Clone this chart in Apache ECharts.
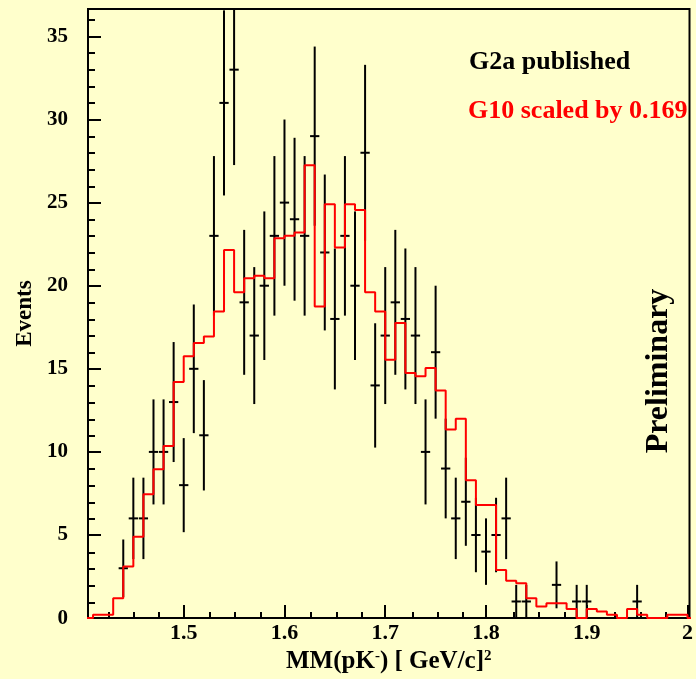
<!DOCTYPE html>
<html><head><meta charset="utf-8">
<script src="https://cdn.jsdelivr.net/npm/echarts@6/dist/echarts.min.js"></script>
<style>html,body{margin:0;padding:0;background:#ffffcc}#c{width:696px;height:679px}</style>
</head><body><div id="c"></div>
<script>
// ---- data ----
const binEdges = [1.40,1.41,1.42,1.43,1.44,1.45,1.46,1.47,1.48,1.49,
  1.50,1.51,1.52,1.53,1.54,1.55,1.56,1.57,1.58,1.59,
  1.60,1.61,1.62,1.63,1.64,1.65,1.66,1.67,1.68,1.69,
  1.70,1.71,1.72,1.73,1.74,1.75,1.76,1.77,1.78,1.79,
  1.80,1.81,1.82,1.83,1.84,1.85,1.86,1.87,1.88,1.89,
  1.90,1.91,1.92,1.93,1.94,1.95,1.96,1.97,1.98,1.99,2.00,2.01];
const g10Scaled = [0,0.2,0.2,1.2,3.1,4.9,7.45,8.95,10.35,14.2,
  15.75,16.55,16.95,18.45,22.15,19.6,20.45,20.6,20.45,22.85,
  23.0,23.2,27.25,18.75,24.9,22.3,24.9,24.55,19.6,18.45,
  15.55,17.75,14.75,14.55,15.05,13.7,11.35,12.0,8.3,6.8,
  6.8,2.9,2.25,2.1,1.2,0.7,0.9,0.9,0.55,0,
  0.55,0.4,0.2,0,0.55,0.2,0,0,0.2,0.2,0,0];
const g2aX = [1.44,1.45,1.46,1.47,1.48,1.49,1.50,1.51,1.52,1.53,1.54,1.55,1.56,1.57,1.58,1.59,
  1.60,1.61,1.62,1.63,1.64,1.65,1.66,1.67,1.68,1.69,1.70,1.71,1.72,1.73,1.74,1.75,1.76,1.77,1.78,1.79,
  1.80,1.81,1.82,1.83,1.84,1.87,1.89,1.90,1.95];
const g2aY = [3,6,6,10,10,13,8,15,11,23,31,33,19,17,20,23,
  25,24,23,29,22,18,23,20,28,14,17,19,18,17,10,16,9,6,7,5,
  4,5,6,1,1,2,1,1,1];
const g2aErr = [1.73,2.45,2.45,3.16,3.16,3.61,2.83,3.87,3.32,4.80,5.57,5.74,4.36,4.12,4.47,4.80,
  5.00,4.90,4.80,5.39,4.69,4.24,4.80,4.47,5.29,3.74,4.12,4.36,4.24,4.12,3.16,4.00,3.00,2.45,2.65,2.24,
  2.00,2.24,2.45,1,1,1.41,1,1,1];
const xMajorTicks = [1.5,1.6,1.7,1.8,1.9,2.0];
const xMinorTicks = [1.425,1.45,1.475,1.525,1.55,1.575,1.625,1.65,1.675,1.725,1.75,1.775,
  1.825,1.85,1.875,1.925,1.95,1.975];
const yMajorTicks = [0,5,10,15,20,25,30,35];
const yMinorTicks = [1,2,3,4,6,7,8,9,11,12,13,14,16,17,18,19,21,22,23,24,26,27,28,29,31,32,33,34,36];
const legendTexts = ['G2a published','G10 scaled by 0.169'];

const FONT = 'Liberation Serif';
const X_MIN = 1.405, X_MAX = 2.002, Y_MIN = 0, Y_MAX = 36.65;
const gridBox = {left: 88, right: 3, top: 9, bottom: 60};

const histData = binEdges.map((x, i) => [x, g10Scaled[i]]);
const pointData = g2aX.map((x, i) => [x, g2aY[i], g2aErr[i]]);

const chart = echarts.init(document.getElementById('c'), null, {renderer: 'canvas'});
chart.setOption({
  animation: false,
  backgroundColor: '#ffffcc',
  grid: [
    Object.assign({show: true, borderColor: '#000', borderWidth: 2, backgroundColor: 'transparent'}, gridBox),
    Object.assign({show: false}, gridBox)
  ],
  xAxis: [{
    type: 'value', gridIndex: 0, min: X_MIN, max: X_MAX, position: 'bottom',
    axisLine: {show: true, onZero: false, lineStyle: {color: '#000', width: 2}},
    axisTick: {show: true, inside: true, length: 13, customValues: xMajorTicks, lineStyle: {color: '#000', width: 2}},
    axisLabel: {show: true, customValues: xMajorTicks, margin: 4, color: '#000', fontFamily: FONT, fontWeight: 'bold', fontSize: 22},
    splitLine: {show: false},
    name: 'MM(pK{sup|-}) [ GeV/c]{sup|2}', nameLocation: 'middle', nameGap: 27,
    nameTextStyle: {color: '#000', fontFamily: FONT, fontWeight: 'bold', fontSize: 25,
      rich: {sup: {fontFamily: FONT, fontWeight: 'bold', fontSize: 15, color: '#000', verticalAlign: 'top'}}}
  }, {
    type: 'value', gridIndex: 1, min: X_MIN, max: X_MAX, position: 'bottom',
    axisLine: {show: false}, axisLabel: {show: false}, splitLine: {show: false},
    axisTick: {show: true, inside: true, length: 7, customValues: xMinorTicks, lineStyle: {color: '#000', width: 2}}
  }],
  yAxis: [{
    type: 'value', gridIndex: 0, min: Y_MIN, max: Y_MAX, position: 'left',
    axisLine: {show: true, onZero: false, lineStyle: {color: '#000', width: 2}},
    axisTick: {show: true, inside: true, length: 13, customValues: yMajorTicks, lineStyle: {color: '#000', width: 2}},
    axisLabel: {show: true, customValues: yMajorTicks, margin: 20, color: '#000', fontFamily: FONT, fontWeight: 'bold', fontSize: 21},
    splitLine: {show: false},
    name: 'Events', nameLocation: 'middle', nameGap: 48, nameRotate: 90,
    nameTextStyle: {color: '#000', fontFamily: FONT, fontWeight: 'bold', fontSize: 23}
  }, {
    type: 'value', gridIndex: 1, min: Y_MIN, max: Y_MAX, position: 'left',
    axisLine: {show: false}, axisLabel: {show: false}, splitLine: {show: false},
    axisTick: {show: true, inside: true, length: 7, customValues: yMinorTicks, lineStyle: {color: '#000', width: 2}}
  }],
  series: [{
    type: 'custom', xAxisIndex: 0, yAxisIndex: 0, clip: true, z: 3,
    data: pointData,
    renderItem: function (params, api) {
      const x = api.value(0), y = api.value(1), e = api.value(2);
      const top = api.coord([x, y + e]), bot = api.coord([x, y - e]);
      const l = api.coord([x - 0.0046, y]), r = api.coord([x + 0.0046, y]);
      return {type: 'group', children: [
        {type: 'line', shape: {x1: top[0], y1: top[1], x2: bot[0], y2: bot[1]}, style: {stroke: '#000', lineWidth: 2}},
        {type: 'line', shape: {x1: l[0], y1: l[1], x2: r[0], y2: r[1]}, style: {stroke: '#000', lineWidth: 2}}
      ]};
    }
  }, {
    type: 'line', xAxisIndex: 0, yAxisIndex: 0, step: 'end', symbol: 'none', clip: true, z: 4,
    data: histData,
    lineStyle: {color: '#ff0000', width: 2}
  }],
  graphic: [
    {type: 'text', x: 469, y: 62, style: {text: legendTexts[0], fill: '#000', font: 'bold 26px "Liberation Serif"', textAlign: 'left', textVerticalAlign: 'middle'}},
    {type: 'text', x: 468, y: 111, style: {text: legendTexts[1], fill: '#ff0000', font: 'bold 26px "Liberation Serif"', textAlign: 'left', textVerticalAlign: 'middle'}},
    {type: 'text', x: 659, y: 371, rotation: Math.PI / 2, style: {text: 'Preliminary', fill: '#000', font: 'bold 32px "Liberation Serif"', textAlign: 'center', textVerticalAlign: 'middle'}}
  ]
});
</script>
</body></html>
